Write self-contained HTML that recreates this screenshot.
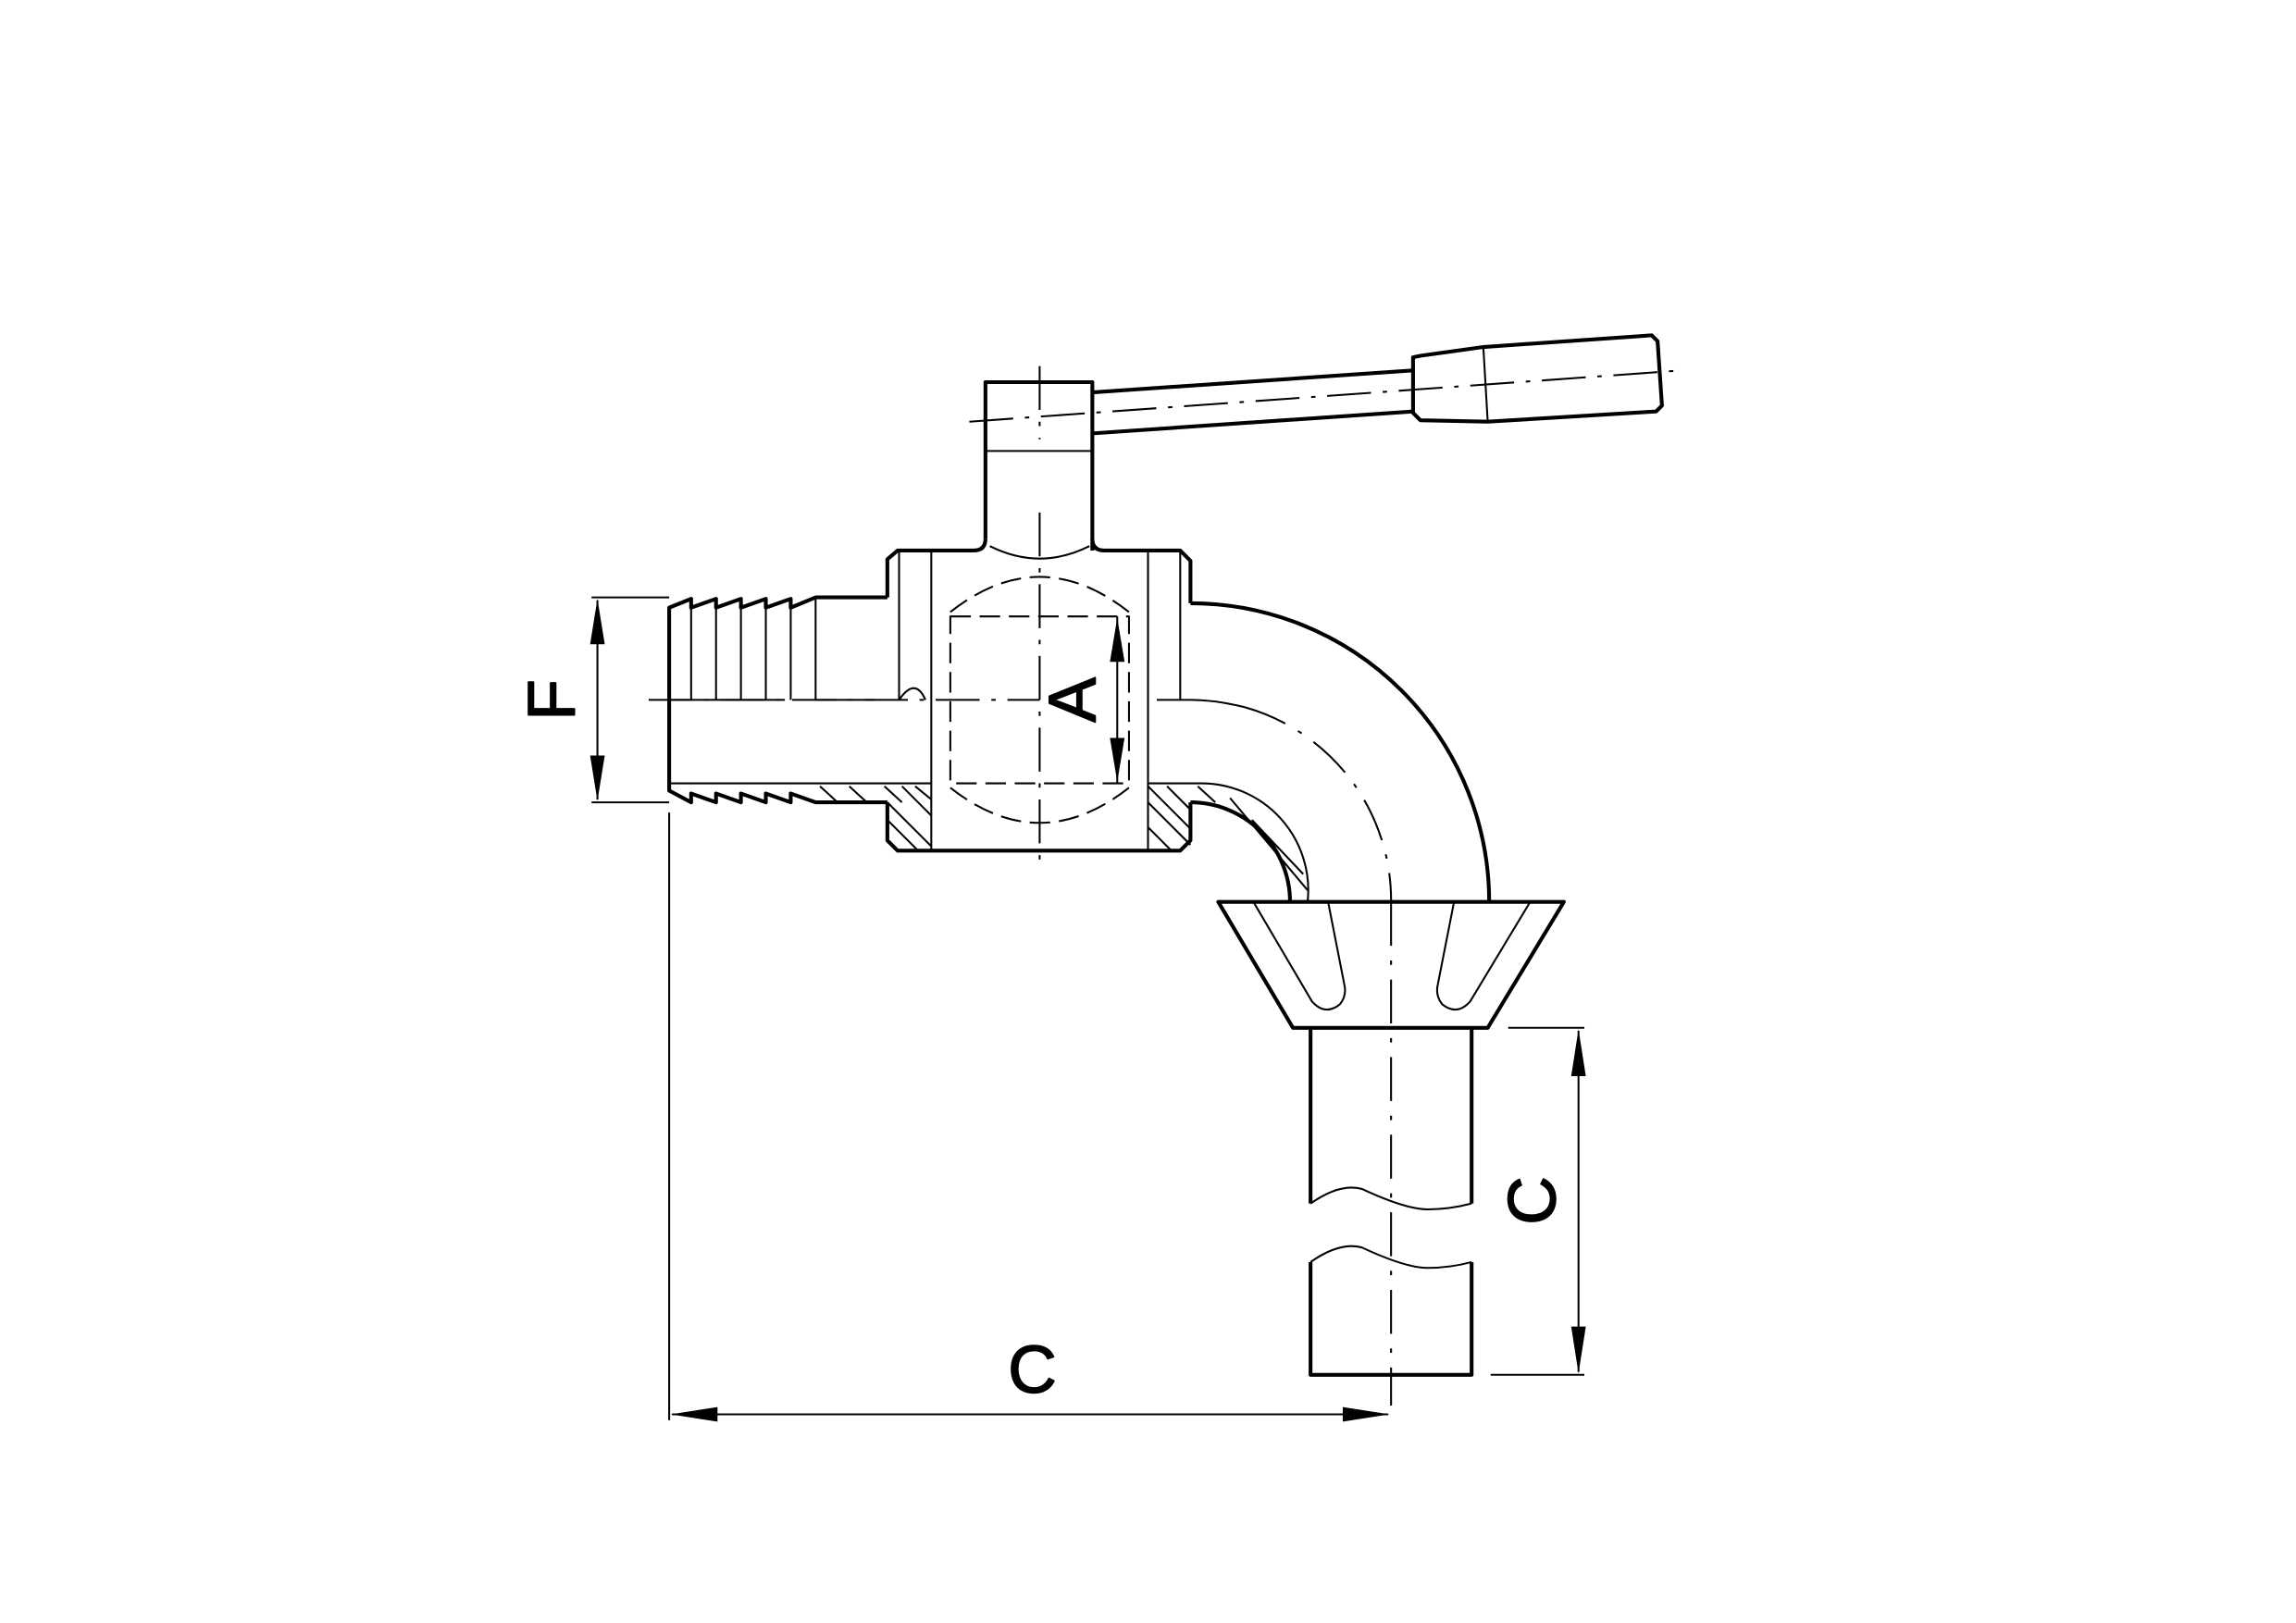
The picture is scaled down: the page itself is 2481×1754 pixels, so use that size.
<!DOCTYPE html>
<html><head><meta charset="utf-8"><style>html,body{margin:0;padding:0;background:#fff}svg{display:block}</style></head>
<body>
<svg width="2481" height="1754" viewBox="0 0 1568 1108.5" xmlns="http://www.w3.org/2000/svg" fill="none" stroke="#000" stroke-linejoin="round">
<g stroke-width="2.6">
<!-- handle stem -->
<path d="M673,368 V261 H746 V376"/>
<path d="M746,268 L965,253 M746,296 L965,281"/>
<path d="M965,253 V244 L970,243 L1013,237 L1128,229 L1132,233 L1135,277 L1131,281 L1016,288 L970,287 L965,282 Z"/>
<!-- body -->
<path d="M606,408 V382 L613,376 H665 Q673,376 673,368"/>
<path d="M746,368 Q746,376 754,376 H806 L813,383 V412"/>
<path d="M606,548 V574 L613,581 H806 L813,574 V548"/>
<path d="M606,408 H557 L540,415 V409 L523,415 V409 L506,415 V409 L489,415 V409 L472,415 V409 L457,415 V540 L472,548 V542 L489,548 V542 L506,548 V542 L523,548 V542 L540,548 V542 L557,548 H606"/>
<!-- elbow -->
<path d="M813,412 A204,204 0 0 1 1017,616"/>
<path d="M813,548 A68,68 0 0 1 881,616"/>
<!-- funnel -->
<path d="M832,616 H1068 L1016,702 H883 Z"/>
<path d="M895,702 V822 M1005,702 V822 M895,862 V939 H1005 V862"/>
</g>
<g stroke-width="1.3">
<path d="M673,308 H746"/>
<path d="M1013,237 L1016,288"/>
<path d="M472,415 V478 M489,415 V478 M506,415 V478 M523,415 V478 M540,415 V478 M557,408 V478"/>
<path d="M457,478 H536 M557,478 H598 M457,535 H636"/>
<path d="M614,376 V478 M636,376 V581 M784,376 V581 M806,376 V478"/>
<path d="M614,478 Q625,462 632,478"/>
<path d="M790,478 H813 Q830,478 850,483"/>
<path d="M784,535 H820 A73,73 0 0 1 893,616"/>
<path d="M676,373 Q710,390 744,373"/>
<path d="M895,822 Q915,808 930,812 Q960,826 975,826 Q990,826 1005,822"/>
<path d="M895,862 Q915,848 930,852 Q960,866 975,866 Q990,866 1005,862"/>
<path d="M856,616 L896,684 Q905,694 915,686 Q920,680 918,672 L907,616"/>
<path d="M1045,616 L1004,684 Q995,694 985,686 Q980,680 982,672 L993,616"/>
<!-- hatch -->
<path d="M560,537 L572,548 M580,537 L592,548 M604,537 L616,548 M606,548 L636,578 M606,560 L627,581 M616,537 L636,557 M625,537 L636,546"/>
<path d="M784,548 L813,577 M784,565 L800,581 M797,537 L813,553 M784,537 L813,566 M818,537 L830,548 M840,545 L893,608 M855,560 L890,597"/>
<!-- center lines -->
<path d="M662,288 L1148,253" stroke-dasharray="30,8,3,8"/>
<path d="M710,250 V300 M710,350 V588" stroke-dasharray="30,8,3,8"/>
<path d="M443,478 H710" stroke-dasharray="30,8,3,8"/>
<path d="M850,483 A137,137 0 0 1 950,616" stroke-dasharray="30,10,3,10"/>
<path d="M950,616 V960" stroke-dasharray="30,10,3,10"/>
<!-- ball dashed -->
<path d="M649,421 H771 V535 H649 Z" stroke-dasharray="14,6"/>
<path d="M649,418 Q710,370 771,418 M649,538 Q710,586 771,538" stroke-dasharray="14,6"/>
<!-- dims -->
<path d="M404,408 H457 M404,548 H457 M408,410 V546"/>
<path d="M457,555 V970 M459,966 H948"/>
<path d="M1030,702 H1082 M1018,939 H1082 M1078,704 V937"/>
<path d="M763,421 V535"/>
</g>
<g fill="#000" stroke="none">
<path d="M408,409 L403,440 H413 Z M408,547 L403,516 H413 Z"/>
<path d="M458,966 L490,961 V971 Z M949,966 L917,961 V971 Z"/>
<path d="M1078,703 L1073,735 H1083 Z M1078,938 L1073,906 H1083 Z"/>
<path d="M763,422 L758,452 H768 Z M763,534 L758,504 H768 Z"/>
</g>
<g font-family="Liberation Sans, sans-serif" font-size="46" fill="#000">
<text x="705" y="951" text-anchor="middle">C</text>
<text transform="translate(392,478) rotate(-90)" text-anchor="middle">F</text>
<text transform="translate(1062,820) rotate(-90)" text-anchor="middle">C</text>
<text transform="translate(748,478) rotate(-90)" text-anchor="middle">A</text>
</g>
</svg>
</body></html>
